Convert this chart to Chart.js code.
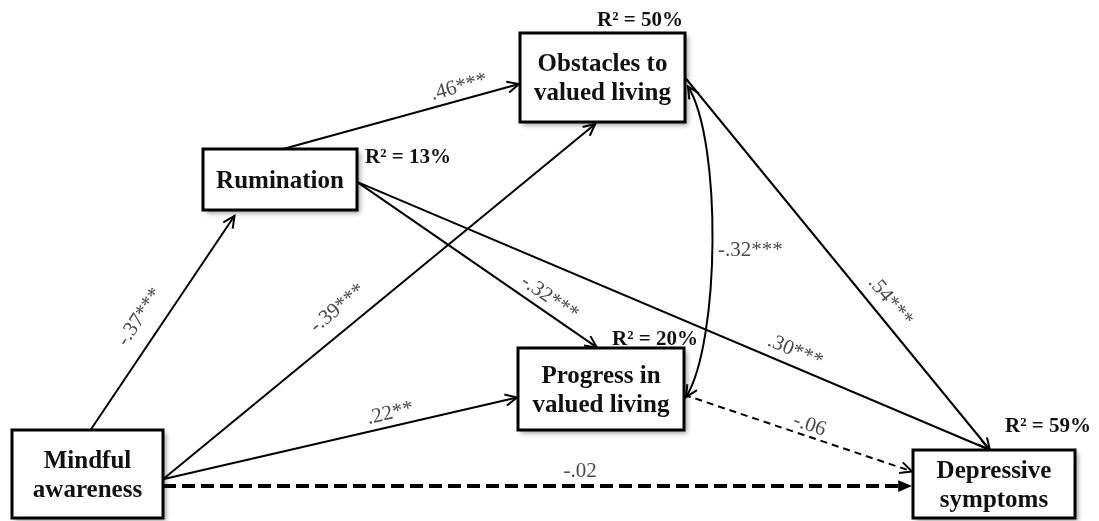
<!DOCTYPE html>
<html lang="en">
<head>
    <meta charset="UTF-8">
    <script src="https://cdn.jsdelivr.net/npm/chart.js"></script>
    <title>Path model - mindful awareness</title>
    <style>
        body { margin: 0; background: #fff; }
        .container { width: 1099px; height: 521px; }
    </style>
</head>
<body>
    <div class="container">
        <canvas id="chart-path"></canvas>
    </div>

<script>
    // variables (boxes) of the model
    const nodeLabels = [['Mindful', 'awareness'], ['Rumination'], ['Obstacles to', 'valued living'], ['Progress in', 'valued living'], ['Depressive', 'symptoms']];
    const nodeX = [87.5, 280, 602.5, 601, 994];
    const nodeY = [474, 179.5, 77.5, 389, 484];
    const rSquared = [null, '13%', '50%', '20%', '59%'];

    // direct paths
    const pathFrom = [0, 0, 0, 0, 1, 1, 1, 2, 3];
    const pathTo = [1, 2, 3, 4, 2, 3, 4, 4, 4];
    const pathCoef = ['-.37***', '-.39***', '.22**', '-.02', '.46***', '-.32***', '.30***', '.54***', '-.06'];

    // correlation between the two valued living scores
    const covFrom = 2;
    const covTo = 3;
    const covCoef = '-.32***';

    // layout / style stuff
    const boxW = [151, 154, 165, 166, 162];
    const boxH = [88, 61, 89, 82, 68];
    const rPos = [null, [408, 158], [640, 21], [655, 340], [1048, 427]];
    const edgeLayout = [
        { from: ['top', 0.52], to: ['bottom', 0.23], gap: 7, label: [0.47, 22] },
        { from: ['right', 0.56], to: ['bottom', 0.47], gap: 3, label: [0.435, 21] },
        { from: ['right', 0.56], to: ['left', 0.6], gap: 1, label: [0.65, 13] },
        { from: ['right', 0.636], to: ['left', 0.53], gap: 1, width: 4, dash: [13, 6], filled: true, label: [0.557, 15] },
        { from: ['top', 0.52], to: ['left', 0.57], gap: 1, label: [0.76, 13] },
        { from: ['right', 0.54], to: ['top', 0.48], gap: 1, label: [0.77, 14] },
        { from: ['right', 0.54], to: ['top', 0.475], gap: 0, label: [0.683, 15] },
        { from: ['right', 0.5], to: ['top', 0.475], gap: 0, label: [0.63, 17] },
        { from: ['right', 0.57], to: ['left', 0.32], gap: 1, width: 2, dash: [7, 5], label: [0.535, 11] }
    ];
    const covLayout = { from: ['right', 0.6], to: ['right', 0.6], bulge: [34, 55], label: [718, 250] };

    const serif = '"Liberation Serif", "Times New Roman", serif';

    function anchor(i, side, f) {
        const w = boxW[i], h = boxH[i];
        const l = nodeX[i] - w / 2, t = nodeY[i] - h / 2;
        if (side === 'top') return [l + f * w, t];
        if (side === 'bottom') return [l + f * w, t + h];
        if (side === 'left') return [l, t + f * h];
        return [l + w, t + f * h];
    }

    function arrowHead(ctx, x, y, ang, filled) {
        const len = filled ? 15 : 13;
        const spread = filled ? 0.4 : 0.45;
        ctx.setLineDash([]);
        ctx.beginPath();
        ctx.moveTo(x + len * Math.cos(ang + Math.PI - spread), y + len * Math.sin(ang + Math.PI - spread));
        ctx.lineTo(x, y);
        ctx.lineTo(x + len * Math.cos(ang + Math.PI + spread), y + len * Math.sin(ang + Math.PI + spread));
        if (filled) {
            ctx.closePath();
            ctx.fill();
        } else {
            ctx.stroke();
        }
    }

    const pathPlugin = {
        id: 'pathPlugin',
        afterDatasetsDraw(chart) {
            const ctx = chart.ctx;
            const sx = chart.scales.x, sy = chart.scales.y;
            const px = (p) => [sx.getPixelForValue(p[0]), sy.getPixelForValue(p[1])];

            ctx.save();
            ctx.strokeStyle = '#000';
            ctx.fillStyle = '#000';
            ctx.lineCap = 'butt';

            // straight paths
            pathFrom.forEach((f, k) => {
                const lay = edgeLayout[k];
                const a = px(anchor(f, lay.from[0], lay.from[1]));
                const b0 = px(anchor(pathTo[k], lay.to[0], lay.to[1]));
                const ang = Math.atan2(b0[1] - a[1], b0[0] - a[0]);
                const b = [b0[0] - lay.gap * Math.cos(ang), b0[1] - lay.gap * Math.sin(ang)];
                const end = lay.filled ? [b[0] - 14 * Math.cos(ang), b[1] - 14 * Math.sin(ang)] : b;

                ctx.lineWidth = lay.width || 2;
                ctx.setLineDash(lay.dash || []);
                ctx.beginPath();
                ctx.moveTo(a[0], a[1]);
                ctx.lineTo(end[0], end[1]);
                ctx.stroke();
                ctx.lineWidth = 2;
                arrowHead(ctx, b[0], b[1], ang, lay.filled);

                // coefficient
                const len = Math.hypot(b[0] - a[0], b[1] - a[1]);
                ctx.save();
                ctx.translate(a[0], a[1]);
                ctx.rotate(ang);
                ctx.fillStyle = '#4a4a4a';
                ctx.font = '21px ' + serif;
                ctx.textAlign = 'center';
                ctx.textBaseline = 'middle';
                ctx.fillText(pathCoef[k], len * lay.label[0], -lay.label[1]);
                ctx.restore();
            });

            // curved correlation arrow
            const c0 = px(anchor(covFrom, covLayout.from[0], covLayout.from[1]));
            const c3 = px(anchor(covTo, covLayout.to[0], covLayout.to[1]));
            c0[0] += 3; c3[0] += 2;
            const c1 = [c0[0] + covLayout.bulge[0], c0[1] + covLayout.bulge[1]];
            const c2 = [c3[0] + covLayout.bulge[0], c3[1] - covLayout.bulge[1]];
            ctx.lineWidth = 2;
            ctx.setLineDash([]);
            ctx.beginPath();
            ctx.moveTo(c0[0], c0[1]);
            ctx.bezierCurveTo(c1[0], c1[1], c2[0], c2[1], c3[0], c3[1]);
            ctx.stroke();
            arrowHead(ctx, c0[0], c0[1], Math.atan2(c0[1] - c1[1], c0[0] - c1[0]), false);
            arrowHead(ctx, c3[0], c3[1], Math.atan2(c3[1] - c2[1], c3[0] - c2[0]), false);
            ctx.fillStyle = '#4a4a4a';
            ctx.font = '21px ' + serif;
            ctx.textAlign = 'left';
            ctx.textBaseline = 'middle';
            const cl = px(covLayout.label);
            ctx.fillText(covCoef, cl[0], cl[1]);

            // boxes
            nodeLabels.forEach((lines, i) => {
                const tl = px([nodeX[i] - boxW[i] / 2, nodeY[i] - boxH[i] / 2]);
                const br = px([nodeX[i] + boxW[i] / 2, nodeY[i] + boxH[i] / 2]);
                const w = br[0] - tl[0], h = br[1] - tl[1];
                ctx.save();
                ctx.shadowColor = 'rgba(0,0,0,0.4)';
                ctx.shadowBlur = 5;
                ctx.shadowOffsetX = 3;
                ctx.shadowOffsetY = 3;
                ctx.fillStyle = '#fff';
                ctx.fillRect(tl[0], tl[1], w, h);
                ctx.restore();
                ctx.lineWidth = 3;
                ctx.strokeStyle = '#000';
                ctx.strokeRect(tl[0], tl[1], w, h);

                const c = px([nodeX[i], nodeY[i]]);
                ctx.fillStyle = '#111';
                ctx.font = 'bold 25px ' + serif;
                ctx.textAlign = 'center';
                ctx.textBaseline = 'middle';
                lines.forEach((s, j) => {
                    ctx.fillText(s, c[0], c[1] + 2 + (j - (lines.length - 1) / 2) * 29);
                });

                if (rSquared[i]) {
                    const r = px(rPos[i]);
                    ctx.font = 'bold 21px ' + serif;
                    ctx.fillText('R\u00B2 = ' + rSquared[i], r[0], r[1]);
                }
            });
            ctx.restore();
        }
    };

    const ctxPath = document.getElementById('chart-path');

    new Chart(ctxPath, {
        type: 'scatter',
        data: {
            datasets: [{
                data: nodeX.map((x, i) => ({ x: x, y: nodeY[i] })),
                pointRadius: 0
            }]
        },
        options: {
            animation: false,
            responsive: true,
            maintainAspectRatio: false,
            layout: { padding: 0 },
            plugins: {
                legend: { display: false },
                tooltip: { enabled: false }
            },
            scales: {
                x: { type: 'linear', min: 0, max: 1099, display: false },
                y: { type: 'linear', min: 0, max: 521, reverse: true, display: false }
            }
        },
        plugins: [pathPlugin]
    });
</script>
</body>
</html>
